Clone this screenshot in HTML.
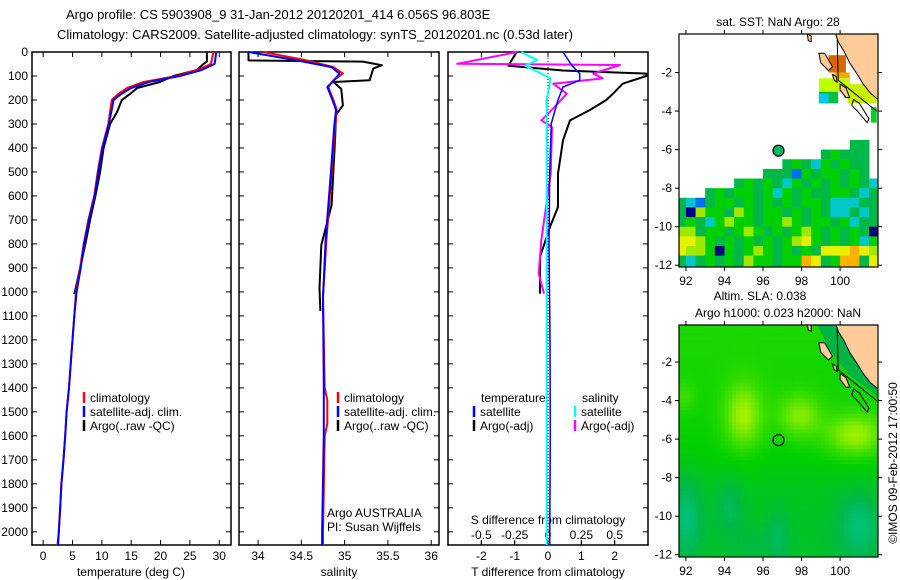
<!DOCTYPE html>
<html><head><meta charset="utf-8"><style>
body{margin:0;background:#fff;}
svg{display:block;font-family:"Liberation Sans",sans-serif;}
text{font-size:12px;fill:#000;}
</style></head><body>
<svg id="fig" width="900" height="580" viewBox="0 0 900 580" xmlns="http://www.w3.org/2000/svg">
<text x="66" y="19" style="font-size:13px">Argo profile: CS 5903908_9 31-Jan-2012 20120201_414 6.056S 96.803E</text>
<text x="57" y="39" style="font-size:13px">Climatology: CARS2009. Satellite-adjusted climatology: synTS_20120201.nc (0.53d later)</text>
<g id="g"></g>
</svg>
<script>
// ---------- profile data ----------
const tClimDepth=[0,50,75,100,125,150,175,200,300,400,500,600,700,800,900,1000,1100,1200,1300,1400,1500,1600,1700,1800,1900,2000,2055];
const tClim=[29.0,28.6,26.2,22.8,17.1,14.3,12.8,11.7,11.1,10.0,9.3,8.7,7.7,6.9,6.3,5.6,5.3,5.0,4.7,4.4,4.0,3.75,3.46,3.1,2.9,2.67,2.44];
const tSat=[29.5,29.2,27.0,23.3,18.0,15.0,13.3,12.0,11.2,10.1,9.4,8.8,7.8,7.0,6.4,5.7,5.3,5.0,4.7,4.4,4.0,3.75,3.46,3.1,2.9,2.67,2.55];
const tArgoDepth=[0,40,50,75,100,125,150,175,200,250,300,400,500,600,700,800,900,1000,1010];
const tArgo=[27.9,27.9,27.3,26.2,22.2,19.9,16.0,14.8,13.4,12.6,11.4,10.3,9.7,8.9,8.0,7.2,6.3,5.4,5.3];
const sClimDepth=[0,35,63,90,118,146,200,242,312,507,785,1021,1400,1450,1550,1600,2000,2055];
const sClim=[34.06,34.56,34.87,34.98,34.87,34.81,34.87,34.91,34.89,34.85,34.79,34.75,34.77,34.80,34.80,34.77,34.75,34.75];
const sSat=[33.89,34.45,34.85,34.94,34.88,34.80,34.86,34.90,34.88,34.84,34.78,34.75,34.76,34.76,34.76,34.76,34.74,34.74];
const sArgoDepth=[0,35,40,55,69,118,125,153,222,263,360,638,805,985,1080];
const sArgo=[33.89,33.89,35.21,35.43,35.33,35.29,34.87,34.96,34.98,34.90,34.89,34.85,34.73,34.71,34.72];
const dTDepth=[0,57,77,90,100,132,174,200,242,285,368,507,646,729,854,1007];
const dTArgo=[-0.94,-1.19,0.45,2.95,2.95,2.24,1.95,1.75,1.25,0.66,0.45,0.3,0.3,0.06,-0.24,-0.24];
const dTSatDepth=[0,57,90,118,146,200,298,507,800,1200,1600,2055];
const dTSat=[0.45,0.72,0.95,0.95,0.45,0.3,0.1,0.05,0.03,0.06,0.07,0.05];
const dSDepth=[0,49,54,90,110,132,174,229,285,313,507,785,924,1007];
const dSArgo=[-0.23,-0.68,0.54,0.34,0.41,0.04,0.14,0.05,-0.05,0.03,0.02,-0.05,-0.07,-0.03];
const dSSatDepth=[0,34,57,90,110,200,600,1200,2055];
const dSSat=[-0.2,-0.08,-0.17,-0.05,0.02,-0.01,-0.01,-0.01,-0.01];
const depthTicks=[0,100,200,300,400,500,600,700,800,900,1000,1100,1200,1300,1400,1500,1600,1700,1800,1900,2000];
const tTicks=[0,5,10,15,20,25,30];
const sTicks=[34,34.5,35,35.5,36];
const sTickLabels=["34","34.5","35","35.5","36"];
const dTTicks=[-2,-1,0,1,2];
const dSTicks=[-0.5,-0.25,0,0.25,0.5];
const dSTickLabels=["-0.5","-0.25","0","0.25","0.5"];

const NS="http://www.w3.org/2000/svg";
const G=document.getElementById('g');
function el(tag,attrs,parent){const e=document.createElementNS(NS,tag);for(const k in attrs)e.setAttribute(k,attrs[k]);(parent||G).appendChild(e);return e;}
function txt(x,y,s,anchor,parent){const t=el('text',{x:x,y:y,'text-anchor':anchor||'start'},parent);t.textContent=s;return t;}

const Y0=52,Y1=545,DMAX=2055;
function yD(d){return Y0+(d/DMAX)*(Y1-Y0);}
function mkX(x0,x1,v0,v1){return v=>x0+(v-v0)/(v1-v0)*(x1-x0);}
const P=[{x0:32,x1:231,fx:mkX(32,231,-1.9,32)},{x0:239,x1:439,fx:mkX(239,439,33.78,36.09)},{x0:448,x1:648,fx:mkX(448,648,-3,3)}];
const fS3=mkX(448,648,-0.75,0.75);

function line(fx,ds,vs,color,w,name){
  let pts=ds.map((d,i)=>fx(vs[i]).toFixed(1)+','+yD(d).toFixed(1)).join(' ');
  const p=el('polyline',{points:pts,fill:'none',stroke:color,'stroke-width':w,'stroke-linejoin':'round'});
  
  
}
P.forEach((p,i)=>{
  const r=el('rect',{x:p.x0,y:Y0,width:p.x1-p.x0,height:Y1-Y0,fill:'none',stroke:'#000','stroke-width':1.5});
  
  
  depthTicks.forEach(d=>{
    el('line',{x1:p.x0,x2:p.x0+5,y1:yD(d),y2:yD(d),stroke:'#000'});
    el('line',{x1:p.x1,x2:p.x1-5,y1:yD(d),y2:yD(d),stroke:'#000'});
  });
});
depthTicks.forEach(d=>{const t=txt(28,yD(d)+4,String(d),'end');
  
  });
function xticks(p,ticks,labels,fx,ly){
  ticks.forEach((v,i)=>{const x=fx(v);
    el('line',{x1:x,x2:x,y1:Y0,y2:Y0+5,stroke:'#000'});
    el('line',{x1:x,x2:x,y1:Y1,y2:Y1-5,stroke:'#000'});
    const t=txt(x,ly,labels[i],'middle');
    
    
  });
}
xticks(P[0],tTicks,tTicks.map(String),P[0].fx,560);
xticks(P[1],sTicks,sTickLabels,P[1].fx,560);
xticks(P[2],dTTicks,dTTicks.map(String),P[2].fx,560);
dSTicks.forEach((v,i)=>{const x=fS3(v);el('line',{x1:x,x2:x,y1:Y1,y2:Y1-4,stroke:'#000'});
  const t=txt(x,539,dSTickLabels[i],'middle');
  
  });
[["temperature (deg C)",131,'x-axis-title-temperature'],["salinity",339,'x-axis-title-salinity'],["T difference from climatology",548,'x-axis-title-t-diff']].forEach(a=>{
  const t=txt(a[1],576,a[0],'middle');
  
  });
{const t=txt(548,524,"S difference from climatology",'middle');
 
 }
el('line',{x1:P[2].fx(0),x2:P[2].fx(0),y1:Y0,y2:Y1,stroke:'#000','stroke-dasharray':'1,2'});

line(P[0].fx,tArgoDepth,tArgo,'#000',2,'temperature-argo-line');
line(P[0].fx,tClimDepth,tClim,'#f00',2,'temperature-climatology-line');
line(P[0].fx,tClimDepth,tSat,'#00f',2,'temperature-satellite-line');
line(P[1].fx,sArgoDepth,sArgo,'#000',2,'salinity-argo-line');
line(P[1].fx,sClimDepth,sClim,'#f00',2,'salinity-climatology-line');
line(P[1].fx,sClimDepth,sSat,'#00f',2,'salinity-satellite-line');
line(P[2].fx,dTDepth,dTArgo,'#000',2,'t-diff-argo-line');
line(fS3,dSDepth,dSArgo,'#f0f',2,'s-diff-argo-line');
line(P[2].fx,dTSatDepth,dTSat,'#00f',1.5,'t-diff-satellite-line');
line(fS3,dSSatDepth,dSSat,'#0ff',2,'s-diff-satellite-line');

function legend(x,y,color,label,name){
  el('line',{x1:x,x2:x,y1:y-10,y2:y+1,stroke:color,'stroke-width':2.5});
  const t=txt(x+6,y,label);
  
  
}
legend(84,402,'#f00','climatology','legend-climatology');
legend(84,416,'#00f','satellite-adj. clim.','legend-satellite-adj');
legend(84,430,'#000','Argo(..raw -QC)','legend-argo');
legend(338,402,'#f00','climatology','legend-climatology-sal');
legend(338,416,'#00f','satellite-adj. clim.','legend-satellite-adj-sal');
legend(338,430,'#000','Argo(..raw -QC)','legend-argo-sal');
{let t=txt(481,402,'temperature');
 t=txt(582,402,'salinity');
 t=txt(327,517,'Argo AUSTRALIA');
 t=txt(327,531,'PI: Susan Wijffels');}
legend(474,416,'#00f','satellite','legend-t-satellite');
legend(474,430,'#000','Argo(-adj)','legend-t-argo');
legend(575,416,'#0ff','satellite','legend-s-satellite');
legend(575,430,'#f0f','Argo(-adj)','legend-s-argo');

// ---------- maps ----------
const lonTicks=[92,94,96,98,100];
const latTicks=[-2,-4,-6,-8,-10,-12];
const floatLon=96.803, floatLat=-6.056;
const sstRows=[
"..................gg.",
"...............gGggg.",
"...........gGgcGgGgg.",
".........gggbGgGGgGg.",
"......gGgGgcGgGgGgGgc",
"...gGgGGgGcGgGggGGgcg",
"gcbgGGgGgGgGgGGgcccgg",
"gnyGGgyGgGGgGgGgccgcg",
"gGgcGyGGgGGyGgGGgGcgg",
"yygGGgGyGgGgGyGgGgGgn",
"YYyGgGgGgGgGyYGgGgGcG",
"YyyGnGgGyGgGgGgYYYoYy",
"gcgGgGgyGGgGGoYgGoogY"];
const sstColors={g:'#00b848',G:'#00d000',y:'#a0e800',Y:'#e8f000',o:'#ffb000',c:'#00c8c8',b:'#0070f0',n:'#000080'};
const sstPatches=[[99.4,100.3,-1.1,-2.0,'#d86800'],[99.7,100.5,-2.0,-2.3,'#f0a800'],[98.9,100.5,-2.3,-3.0,'#c0ff00'],[98.9,99.9,-3.0,-3.6,'#00c040'],[98.9,99.4,-3.1,-3.6,'#00c8f0'],[100.4,101.9,-2.6,-3.6,'#c8f000'],[101.6,101.9,-3.8,-4.6,'#00d020']];
const blobLon=[95.0,97.9,100.8,91.9,92.0,94.3,96.8,101.0,95.5];
const blobLat=[-4.8,-4.8,-5.8,-3.8,-10.0,-9.5,-11.0,-10.5,-11.5];
const blobAmp=[0.3,0.24,0.3,0.1,-0.2,-0.14,-0.12,-0.2,-0.06];
const blobSx=[0.7,0.8,1.1,0.4,0.6,0.5,0.4,0.8,0.8];
const blobSy=[1.2,0.8,0.8,0.5,1.5,1.0,1.0,1.2,0.6];

const M=[{x0:679,x1:878,y0:34,y1:267,lat0:34},{x0:679,x1:878,y0:325,y1:557,lat0:323.5}];
const LON0=91.64,PXD=19.27;
function mx(lon){return 679+(lon-LON0)*PXD;}
function lerp(a,b,t){return a+(b-a)*t;}
function cmap(v){
  const st=[[0,[0,200,160]],[0.22,[0,184,72]],[0.4,[0,208,0]],[0.55,[64,224,0]],[0.72,[160,240,0]],[0.9,[210,255,0]]];
  v=Math.max(0,Math.min(0.9,v));
  for(let i=0;i<st.length-1;i++){if(v<=st[i+1][0]){const t=(v-st[i][0])/(st[i+1][0]-st[i][0]);
    return 'rgb('+st[i][1].map((c,k)=>Math.round(lerp(c,st[i+1][1][k],t))).join(',')+')';}}
  return 'rgb(210,255,0)';
}
const land=[[99.7,0.2],[99.9,-0.4],[100.2,-0.9],[100.5,-1.5],[100.9,-2.1],[101.2,-2.6],[101.6,-3.1],[102.1,-3.5],[102.1,0.2]];
const islands=[[[98.3,0.0],[98.5,-0.1],[98.5,-0.4],[98.35,-0.35]],[[98.9,-1.0],[99.2,-1.0],[99.6,-1.7],[99.4,-1.9],[99.0,-1.5]],[[99.6,-2.1],[99.8,-2.2],[99.85,-2.5],[99.7,-2.4]],[[100.0,-2.6],[100.3,-2.8],[100.5,-3.3],[100.3,-3.3],[100.0,-2.9]]];
const outline=[[100.7,-3.4],[101.0,-3.6],[101.5,-4.4],[101.4,-4.6],[100.9,-4.0],[100.6,-3.7]];

M.forEach((m,mi)=>{
  const gm=el('g',{});
  
  
  const clip=el('clipPath',{id:'c'+mi},gm);el('rect',{x:m.x0,y:m.y0,width:m.x1-m.x0,height:m.y1-m.y0},clip);
  const inner=el('g',{'clip-path':'url(#c'+mi+')'},gm);
  const my=lat=>m.lat0+(-lat)*PXD;
  if(mi==0){
    sstRows.forEach((row,r)=>{for(let c=0;c<row.length;c++){const ch=row[c];if(ch=='.')continue;
      const lon=91.5+0.5*c,lat=-5.5-0.5*r;
      el('rect',{x:mx(lon),y:my(lat),width:0.5*PXD+0.5,height:0.5*PXD+(r==sstRows.length-1?3:0.5),fill:sstColors[ch]},inner);}});
    sstPatches.forEach(p=>el('rect',{x:mx(p[0]),y:my(p[2]),width:(p[1]-p[0])*PXD,height:(p[2]-p[3])*PXD,fill:p[4]},inner));
  } else {
    const step=0.2;
    for(let lon=91.6;lon<102.1;lon+=step){for(let lat=0.1;lat>-12.3;lat-=step){
      const cl=lon+step/2,ca=lat-step/2;
      let v=0.42+0.008*(ca+6)-0.08/(1+Math.exp((ca+7.5)*1.5));
      for(let b=0;b<blobLon.length;b++){v+=blobAmp[b]*Math.exp(-(((cl-blobLon[b])/blobSx[b])**2+((ca-blobLat[b])/blobSy[b])**2)/2);}
      el('rect',{x:mx(lon),y:my(lat),width:step*PXD+0.4,height:step*PXD+0.4,fill:cmap(v)},inner);}}
    el('polygon',{points:[[98.7,0.2],[99.7,0.2],[102.1,-3.5],[102.1,-3.9],[100.4,-2.6],[99.4,-1.3]].map(p=>mx(p[0])+','+my(p[1])).join(' '),fill:'#00b444'},inner);
  }
  const pp=a=>a.map(p=>mx(p[0]).toFixed(1)+','+my(p[1]).toFixed(1)).join(' ');
  const ld=el('polygon',{points:pp(land),fill:'#ffcc99',stroke:'#000','stroke-width':1},inner);
  
  
  el('polyline',{points:pp([[99.85,-0.3],[99.9,-2.4],[101.9,-4.0]]),fill:'none',stroke:'#000','stroke-width':1},inner);
  islands.forEach(is=>el('polygon',{points:pp(is),fill:'#ffcc99',stroke:'#000','stroke-width':1},inner));
  el('polygon',{points:pp(outline),fill:'none',stroke:'#000','stroke-width':1},inner);
  const mk=el('circle',{cx:mx(floatLon),cy:my(floatLat),r:5.5,fill:mi==0?'#00b860':'none',stroke:'#000','stroke-width':1.2},gm);
  
  
  el('rect',{x:m.x0,y:m.y0,width:m.x1-m.x0,height:m.y1-m.y0,fill:'none',stroke:'#000','stroke-width':1.2},gm);
  lonTicks.forEach(l=>{const x=mx(l);
    el('line',{x1:x,x2:x,y1:m.y0,y2:m.y0-4,stroke:'#000'},gm);
    el('line',{x1:x,x2:x,y1:m.y1,y2:m.y1+4,stroke:'#000'},gm);
    const t=txt(x,m.y1+18,String(l),'middle',gm);
    
    });
  latTicks.forEach(l=>{const y=my(l);
    el('line',{x1:m.x0,x2:m.x0-4,y1:y,y2:y,stroke:'#000'},gm);
    el('line',{x1:m.x1,x2:m.x1+4,y1:y,y2:y,stroke:'#000'},gm);
    const t=txt(m.x0-7,y+4,String(l),'end',gm);
    
    });
});
{let t=txt(778,26,'sat. SST: NaN Argo: 28','middle');
 t=txt(760,300,'Altim. SLA: 0.038','middle');
 t=txt(778,317,'Argo h1000: 0.023 h2000: NaN','middle');
 t=txt(0,0,'©IMOS 09-Feb-2012 17:00:50','middle');t.setAttribute('transform','translate(897,463) rotate(-90)');
 }
</script>
</body></html>
